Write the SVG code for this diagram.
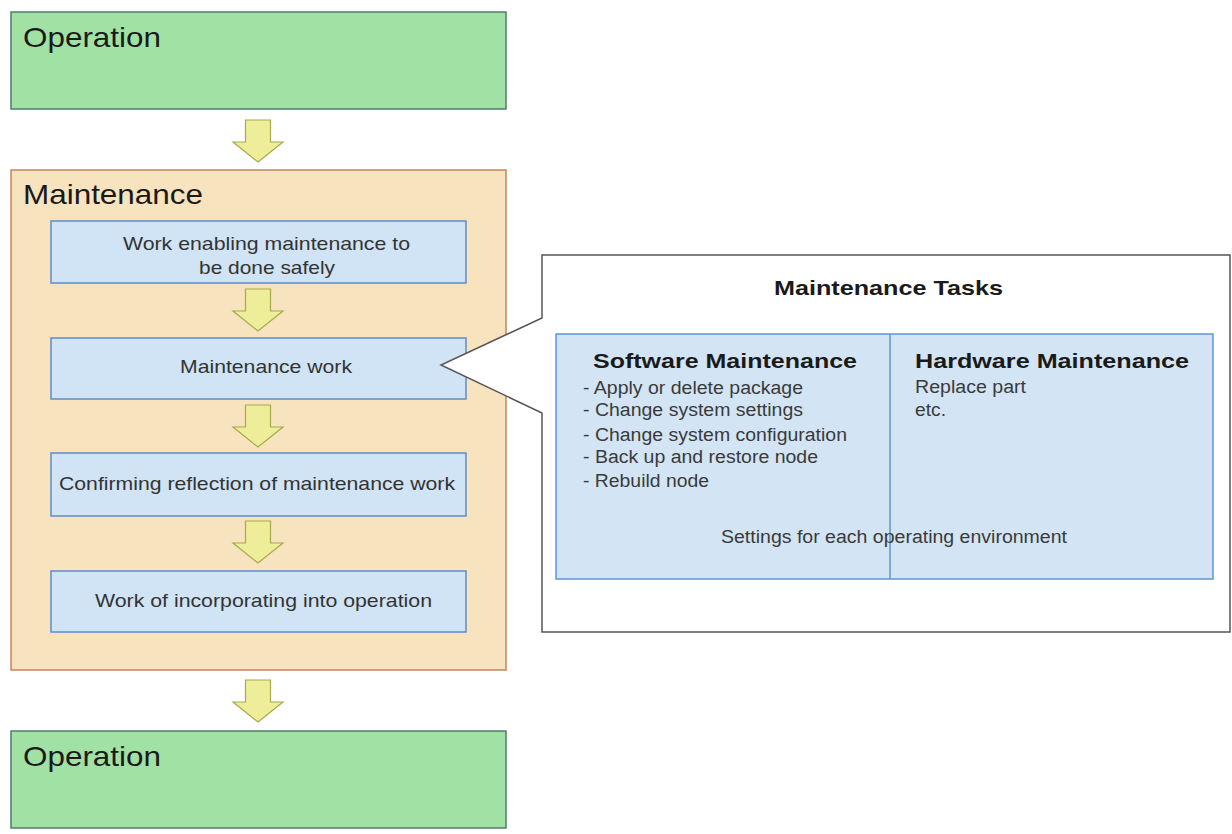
<svg xmlns="http://www.w3.org/2000/svg" xmlns:xlink="http://www.w3.org/1999/xlink" width="1232" height="834" viewBox="0 0 1232 834">
<style>
.op{fill:#a1e2a4;stroke:#4d7d6c;stroke-width:1.5}
.mt{fill:#f8e3bf;stroke:#c8855d;stroke-width:1.5}
.step{fill:#d0e4f5;stroke:#5b8fca;stroke-width:1.5}
.big{font-family:"Liberation Sans",Arial,sans-serif;font-size:28px;fill:#1a1a1a}
.st{font-family:"Liberation Sans",Arial,sans-serif;font-size:18.5px;fill:#333}
.bt{font-family:"Liberation Sans",Arial,sans-serif;font-size:21px;font-weight:bold;fill:#1a1a1a}
.li{font-family:"Liberation Sans",Arial,sans-serif;font-size:18px;fill:#3a3a3a}
.arr{fill:#eeee9a;stroke:#a9a84c;stroke-width:1.2}
</style>
<defs>
<path id="dn" d="M-12.5,0 H12.5 V22 H25 L0,42 L-25,22 H-12.5 Z"/>
</defs>
<rect width="1232" height="834" fill="#ffffff"/>
<g id="operation-top">
<rect class="op" x="11" y="12" width="495" height="97"/>
<text class="big" x="23" y="47" textLength="138" lengthAdjust="spacingAndGlyphs">Operation</text>
</g>
<g id="maintenance">
<rect class="mt" x="11" y="170" width="495" height="500"/>
<text class="big" x="23" y="204" textLength="180" lengthAdjust="spacingAndGlyphs">Maintenance</text>
</g>
<g id="step-safe">
<rect class="step" x="51" y="221" width="415" height="62"/>
<text class="st" x="123" y="250" textLength="287" lengthAdjust="spacingAndGlyphs">Work enabling maintenance to</text>
<text class="st" x="199" y="274" textLength="136" lengthAdjust="spacingAndGlyphs">be done safely</text>
</g>
<g id="step-work">
<rect class="step" x="51" y="338" width="415" height="61"/>
<text class="st" x="180" y="373" textLength="172" lengthAdjust="spacingAndGlyphs">Maintenance work</text>
</g>
<g id="step-confirm">
<rect class="step" x="51" y="453" width="415" height="63"/>
<text class="st" x="59" y="490" textLength="396" lengthAdjust="spacingAndGlyphs">Confirming reflection of maintenance work</text>
</g>
<g id="step-incorporate">
<rect class="step" x="51" y="571" width="415" height="61"/>
<text class="st" x="95" y="607" textLength="337" lengthAdjust="spacingAndGlyphs">Work of incorporating into operation</text>
</g>
<g id="operation-bottom">
<rect class="op" x="11" y="731" width="495" height="97"/>
<text class="big" x="23" y="766" textLength="138" lengthAdjust="spacingAndGlyphs">Operation</text>
</g>
<g id="connectors">
<use href="#dn" class="arr" transform="translate(258,120)"/>
<use href="#dn" class="arr" transform="translate(258,289)"/>
<use href="#dn" class="arr" transform="translate(258,405)"/>
<use href="#dn" class="arr" transform="translate(258,521)"/>
<use href="#dn" class="arr" transform="translate(258,680)"/>
</g>
<g id="maintenance-tasks">
<path d="M542,255 H1230 V632 H542 V413 L441,365 L542,318 Z" fill="#ffffff" stroke="#555555" stroke-width="1.5"/>
<text class="bt" x="774" y="295" textLength="229" lengthAdjust="spacingAndGlyphs">Maintenance Tasks</text>
<rect x="556" y="334" width="657" height="245" fill="#d3e5f5" stroke="#5f95cf" stroke-width="1.5"/>
<line x1="890" y1="334" x2="890" y2="579" stroke="#5f95cf" stroke-width="1.5"/>
</g>
<g id="software-maintenance">
<text class="bt" x="593" y="368" textLength="264" lengthAdjust="spacingAndGlyphs">Software Maintenance</text>
<text class="li" x="583" y="394" textLength="220" lengthAdjust="spacingAndGlyphs">- Apply or delete package</text>
<text class="li" x="583" y="416" textLength="220" lengthAdjust="spacingAndGlyphs">- Change system settings</text>
<text class="li" x="583" y="441" textLength="264" lengthAdjust="spacingAndGlyphs">- Change system configuration</text>
<text class="li" x="583" y="463" textLength="235" lengthAdjust="spacingAndGlyphs">- Back up and restore node</text>
<text class="li" x="583" y="487" textLength="126" lengthAdjust="spacingAndGlyphs">- Rebuild node</text>
</g>
<g id="hardware-maintenance">
<text class="bt" x="915" y="368" textLength="274" lengthAdjust="spacingAndGlyphs">Hardware Maintenance</text>
<text class="li" x="915" y="393" textLength="111" lengthAdjust="spacingAndGlyphs">Replace part</text>
<text class="li" x="915" y="416" textLength="31" lengthAdjust="spacingAndGlyphs">etc.</text>
</g>
<g id="settings-note">
<text class="li" x="721" y="543" textLength="346" lengthAdjust="spacingAndGlyphs">Settings for each operating environment</text>
</g>
</svg>
